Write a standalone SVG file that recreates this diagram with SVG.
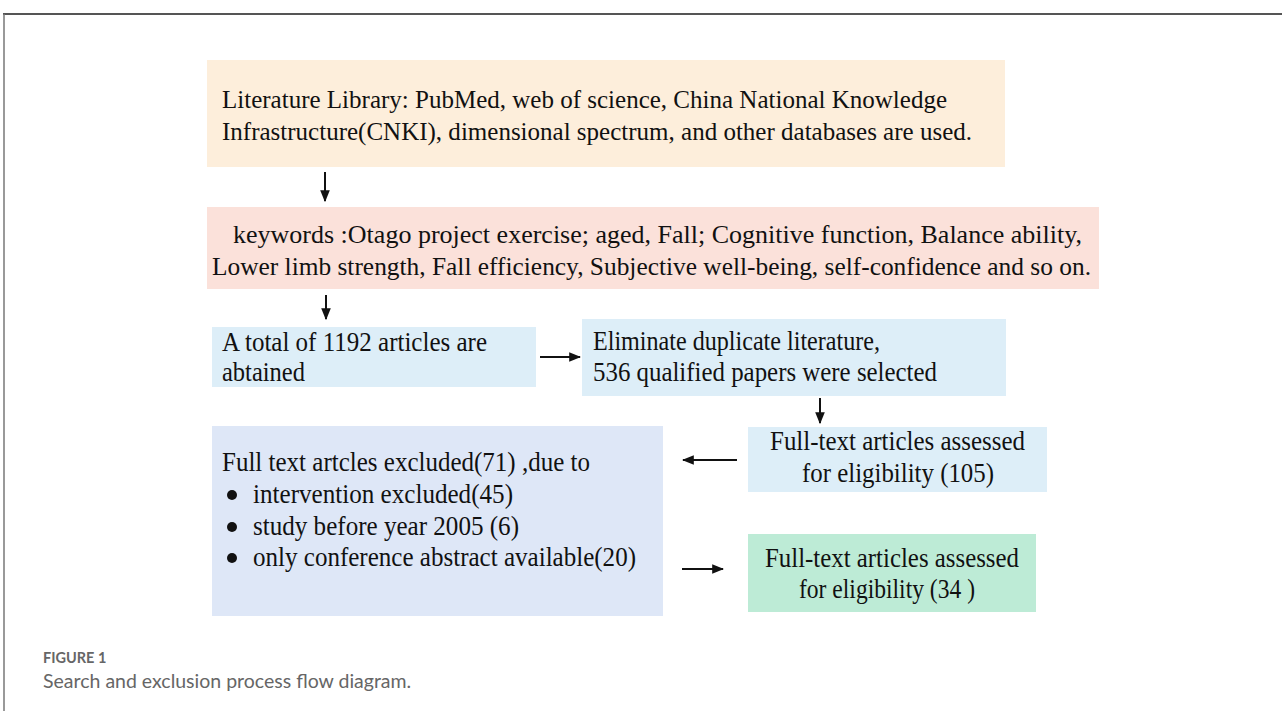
<svg xmlns="http://www.w3.org/2000/svg" width="1282" height="711" viewBox="0 0 1282 711">
<defs>
<style>
.t{font-family:"Liberation Serif","Times New Roman",serif;font-size:25px;fill:#111}
.c{font-family:"Liberation Serif","Times New Roman",serif;font-size:27px;fill:#111}
.cap{font-family:Lato,"Open Sans",sans-serif;fill:#666}
.ln{stroke:#111;stroke-width:2;fill:none}
</style>
<marker id="ah" viewBox="0 0 10 10" refX="9" refY="5" markerWidth="6" markerHeight="6" orient="auto" markerUnits="strokeWidth">
<path d="M0,1 L10,5 L0,9 Z" fill="#111"/>
</marker>
</defs>
<rect width="1282" height="711" fill="#fff"/>
<line x1="3" y1="14" x2="1282" y2="14" stroke="#555" stroke-width="2"/>
<line x1="4" y1="14" x2="4" y2="711" stroke="#777" stroke-width="1.5"/>

<g id="n1">
<rect x="207" y="60" width="798" height="107" fill="#fdeedb"/>
<text class="t" x="222" y="108" textLength="725" lengthAdjust="spacingAndGlyphs">Literature Library: PubMed, web of science, China National Knowledge</text>
<text class="t" x="222" y="140" textLength="750" lengthAdjust="spacingAndGlyphs">Infrastructure(CNKI), dimensional spectrum, and other databases are used.</text>
</g>
<g id="n2">
<rect x="207" y="207" width="892" height="82" fill="#fbe1da"/>
<text class="t" x="233" y="243" textLength="849" lengthAdjust="spacingAndGlyphs">keywords :Otago project exercise; aged, Fall; Cognitive function, Balance ability,</text>
<text class="t" x="212" y="275" textLength="879" lengthAdjust="spacingAndGlyphs">Lower limb strength, Fall efficiency, Subjective well-being, self-confidence and so on.</text>
</g>
<g id="n3">
<rect x="212" y="327" width="324" height="60" fill="#ddeef8"/>
<text class="c" x="222" y="351" textLength="265" lengthAdjust="spacingAndGlyphs">A total of 1192 articles are</text>
<text class="c" x="222" y="381" textLength="83" lengthAdjust="spacingAndGlyphs">abtained</text>
</g>
<g id="n4">
<rect x="582" y="319" width="424" height="77" fill="#ddeef8"/>
<text class="c" x="593" y="350" textLength="287" lengthAdjust="spacingAndGlyphs">Eliminate duplicate literature,</text>
<text class="c" x="593" y="381" textLength="344" lengthAdjust="spacingAndGlyphs">536 qualified papers were selected</text>
</g>
<g id="n5">
<rect x="748" y="427" width="299" height="65" fill="#ddeef8"/>
<text class="c" x="770" y="450" textLength="255" lengthAdjust="spacingAndGlyphs">Full-text articles assessed</text>
<text class="c" x="802" y="482" textLength="192" lengthAdjust="spacingAndGlyphs">for eligibility (105)</text>
</g>
<g id="n6">
<rect x="212" y="426" width="451" height="190" fill="#dee7f7"/>
<text class="c" x="222" y="471" textLength="368" lengthAdjust="spacingAndGlyphs">Full text artcles excluded(71) ,due to</text>
<circle cx="232" cy="495" r="5" fill="#111"/>
<text class="c" x="253" y="503" textLength="260" lengthAdjust="spacingAndGlyphs">intervention excluded(45)</text>
<circle cx="232" cy="527" r="5" fill="#111"/>
<text class="c" x="253" y="535" textLength="266" lengthAdjust="spacingAndGlyphs">study before year 2005 (6)</text>
<circle cx="232" cy="558" r="5" fill="#111"/>
<text class="c" x="253" y="566" textLength="383" lengthAdjust="spacingAndGlyphs">only conference abstract available(20)</text>
</g>
<g id="n7">
<rect x="748" y="534" width="288" height="78" fill="#bdebd6"/>
<text class="c" x="765" y="567" textLength="254" lengthAdjust="spacingAndGlyphs">Full-text articles assessed</text>
<text class="c" x="799" y="598" textLength="176" lengthAdjust="spacingAndGlyphs">for eligibility (34 )</text>
</g>

<g id="connectors">
<line class="ln" x1="325" y1="172" x2="325" y2="201" marker-end="url(#ah)"/>
<line class="ln" x1="326" y1="295" x2="326" y2="319" marker-end="url(#ah)"/>
<line class="ln" x1="540" y1="357" x2="580" y2="357" marker-end="url(#ah)"/>
<line class="ln" x1="820" y1="398" x2="820" y2="423" marker-end="url(#ah)"/>
<line class="ln" x1="737" y1="460" x2="683" y2="460" marker-end="url(#ah)"/>
<line class="ln" x1="682" y1="569" x2="723" y2="569" marker-end="url(#ah)"/>
</g>

<text class="cap" x="43" y="663" font-size="14.5" font-weight="bold" fill="#555">FIGURE 1</text>
<text class="cap" x="43" y="688" font-size="19.5">Search and exclusion process flow diagram.</text>
</svg>
